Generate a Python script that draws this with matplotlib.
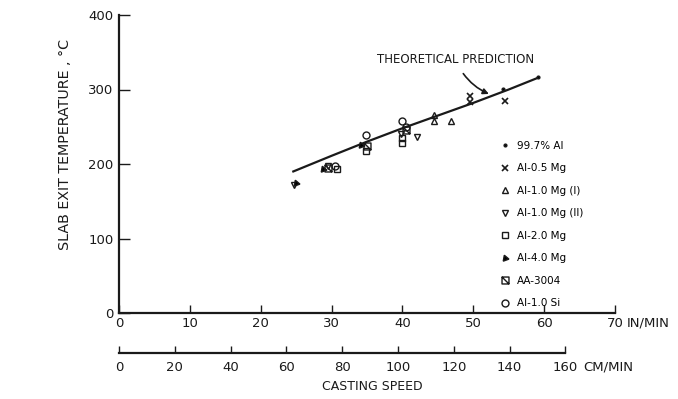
import matplotlib.pyplot as plt
from matplotlib.path import Path

plt.rcParams['font.family'] = ['DejaVu Sans']

# theoretical prediction (in/min, deg C)
theory_x = [24.6, 30, 35, 40, 45, 50, 55, 59.2]
theory_y = [190, 211, 230, 248, 265, 282, 300, 316]

# measured points per alloy
series_names = ['99.7% Al', 'Al-0.5 Mg', 'Al-1.0 Mg (I)', 'Al-1.0 Mg (II)',
                'Al-2.0 Mg', 'Al-4.0 Mg', 'AA-3004', 'Al-1.0 Si']
series_x = [
    [54.2, 59.2],
    [49.6, 49.6, 54.5],
    [44.5, 44.5, 46.8],
    [24.7, 29.5, 42.0, 39.8],
    [34.8, 40.0, 40.0, 30.8],
    [25.0, 28.8, 34.2],
    [29.5, 35.0, 40.5],
    [30.5, 34.8, 40.0, 40.5],
]
series_y = [
    [301, 317],
    [283, 291, 285],
    [258, 266, 258],
    [172, 197, 236, 240],
    [217, 228, 235, 193],
    [174, 193, 226],
    [195, 224, 246],
    [197, 239, 258, 250],
]

in_ticks = [0, 10, 20, 30, 40, 50, 60, 70]
cm_ticks = [0, 20, 40, 60, 80, 100, 120, 140, 160]
temp_ticks = [0, 100, 200, 300, 400]

# square with a diagonal stroke for AA-3004
box_slash = Path([(-1, -1), (1, -1), (1, 1), (-1, 1), (-1, -1), (-1, 1), (1, -1)],
                 [Path.MOVETO, Path.LINETO, Path.LINETO, Path.LINETO,
                  Path.CLOSEPOLY, Path.MOVETO, Path.LINETO])

styles = [
    dict(marker='.', ms=4, mfc='k'),
    dict(marker='x', ms=4, mew=1.2),
    dict(marker='^', ms=5, mfc='none', mew=1.0),
    dict(marker='v', ms=5, mfc='none', mew=1.0),
    dict(marker='s', ms=5, mfc='none', mew=1.0),
    dict(marker=(3, 0, 20), ms=5, mfc='k', mew=1.0),
    dict(marker=box_slash, ms=5, mfc='none', mew=1.0),
    dict(marker='o', ms=5, mfc='none', mew=1.0),
]

ink = '#1a1a1a'
W, H = 678, 399
fig = plt.figure(figsize=(6.78, 3.99), dpi=100)
ax = fig.add_axes([119 / W, 1 - 313 / H, 496 / W, 298 / H])

ax.plot(theory_x, theory_y, color=ink, lw=1.6)
for name, xs, ys, st in zip(series_names, series_x, series_y, styles):
    ax.plot(xs, ys, ls='none', color=ink, mec=ink, label=name, **st)

ax.annotate('THEORETICAL PREDICTION', xy=(52.2, 294), xytext=(47.5, 340),
            ha='center', va='center', fontsize=8.5, color=ink,
            arrowprops=dict(arrowstyle='-|>', color=ink, lw=1.2,
                            connectionstyle='arc3,rad=0.2', shrinkA=4, shrinkB=0))

ax.set_xlim(0, 70)
ax.set_ylim(0, 400)
for s in ['top', 'right']:
    ax.spines[s].set_visible(False)
for s in ['left', 'bottom']:
    ax.spines[s].set_linewidth(1.6)
    ax.spines[s].set_color(ink)
ax.set_xticks(in_ticks)
ax.set_yticks(temp_ticks)
ax.tick_params(axis='x', direction='in', length=6, width=1.0, labelsize=9.5, pad=3, colors=ink)
ax.tick_params(axis='y', direction='in', length=8, width=1.0, labelsize=9.5, pad=4, colors=ink)
ax.set_ylabel('SLAB EXIT TEMPERATURE , °C', fontsize=10.3, color=ink)
ax.yaxis.set_label_coords(-0.095, 0.564)
fig.text(627 / W, 1 - 323 / H, 'IN/MIN', fontsize=9.5, color=ink, va='center', ha='left')

leg = ax.legend(loc='upper left', bbox_to_anchor=(0.757, 0.595), frameon=False,
                fontsize=7.5, labelspacing=1.2, handlelength=1.0, handletextpad=0.7,
                borderpad=0)

# second scale in cm/min
ax2 = fig.add_axes([119 / W, 1 - 353 / H, 496 / W, 0.01])
ax2.set_xlim(0, 70 * 2.54)
ax2.set_yticks([])
ax2.patch.set_visible(False)
for s in ['top', 'right', 'left']:
    ax2.spines[s].set_visible(False)
ax2.spines['bottom'].set_bounds(0, 160)
ax2.spines['bottom'].set_linewidth(1.6)
ax2.spines['bottom'].set_color(ink)
ax2.set_xticks(cm_ticks)
ax2.tick_params(axis='x', direction='in', length=5, width=1.0, labelsize=9.5, pad=6, colors=ink)
fig.text(583 / W, 1 - 367 / H, 'CM/MIN', fontsize=9.5, color=ink, va='center', ha='left')
fig.text(372 / W, 1 - 386 / H, 'CASTING SPEED', fontsize=9, color=ink, va='center', ha='center')

fig.savefig('out.png', dpi=100)
